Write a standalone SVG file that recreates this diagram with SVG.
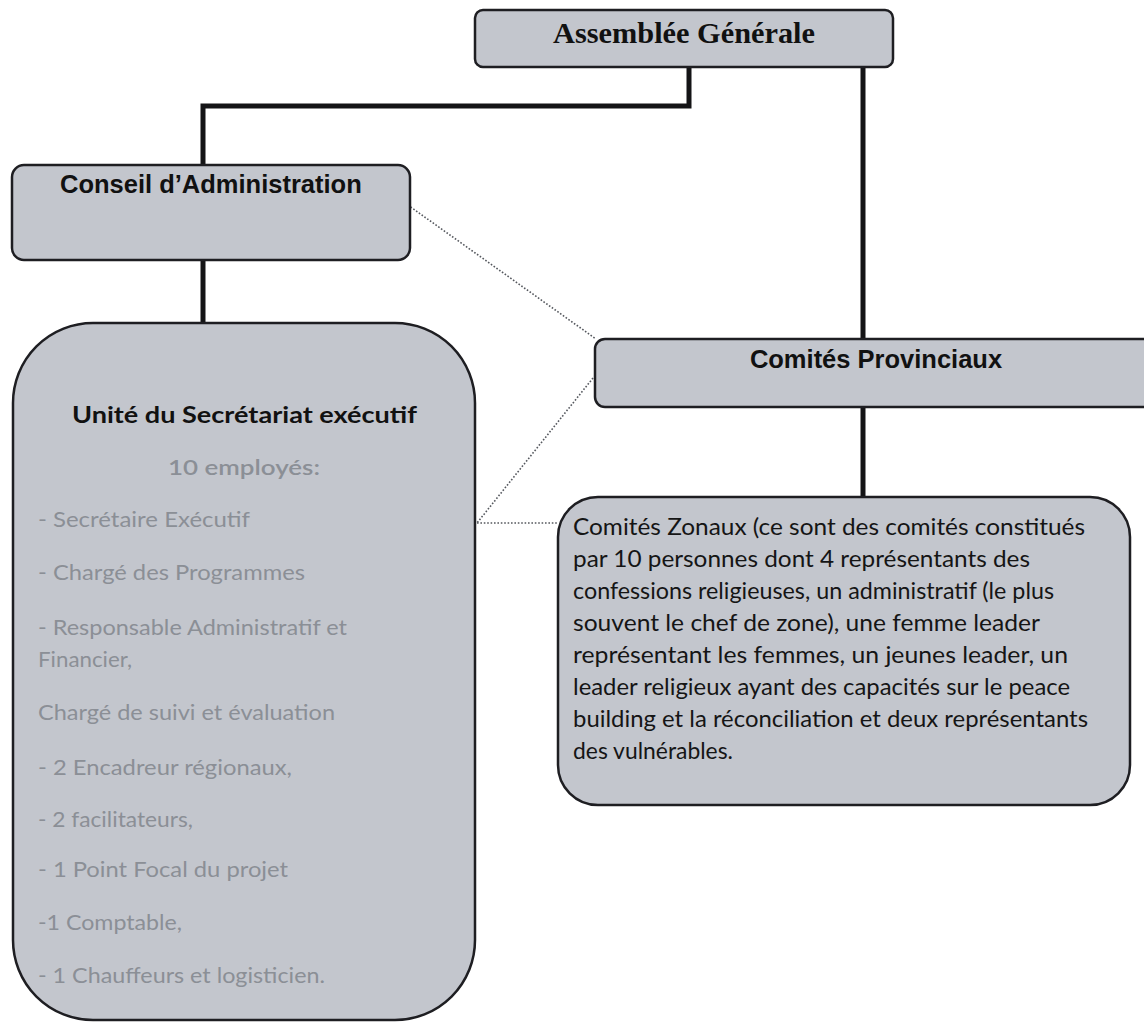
<svg xmlns="http://www.w3.org/2000/svg" width="1144" height="1023" viewBox="0 0 1144 1023">
  <style>
    .box { fill: #c3c6cd; stroke: #1e1e22; stroke-width: 2.5; }
    .solid { fill: none; stroke: #141416; stroke-width: 5; }
    .dot { fill: none; stroke: #55585e; stroke-width: 1.6; stroke-dasharray: 1.6 1.8; }
    .serifb { font-family: "Liberation Serif", "Times New Roman", serif; font-weight: bold; fill: #111; }
    .arialb { font-family: "Liberation Sans", Arial, sans-serif; font-weight: bold; fill: #111; }
    .hum { font-family: Lato, "Open Sans", sans-serif; }
    .gray { fill: #8b8f96; font-size: 21px; }
    .zon { fill: #151515; font-size: 23.5px; }
  </style>
  <rect width="1144" height="1023" fill="#ffffff"/>

  <g id="connectors">
    <path class="solid" d="M689,67 V106 H203 V165"/>
    <path class="solid" d="M203,260 V323"/>
    <path class="solid" d="M863,67 V339"/>
    <path class="solid" d="M863,407 V497"/>
    <path class="dot" d="M405,203 L596,339"/>
    <path class="dot" d="M593,378 L477,523"/>
    <path class="dot" d="M477,523 H558"/>
  </g>

  <g id="assemblee-generale">
    <rect class="box" x="475" y="10" width="418" height="57" rx="8"/>
    <text class="serifb" x="684" y="43" font-size="29" text-anchor="middle" textLength="262" lengthAdjust="spacingAndGlyphs">Assemblée Générale</text>
  </g>

  <g id="conseil-administration">
    <rect class="box" x="12" y="165" width="398" height="95" rx="12"/>
    <text class="arialb" x="60" y="193" font-size="25.5">Conseil d’Administration</text>
  </g>

  <g id="unite-secretariat">
    <rect class="box" x="13" y="323" width="462" height="697" rx="80"/>
    <text class="hum" x="72" y="423" font-size="23" font-weight="bold" fill="#111" textLength="345" lengthAdjust="spacingAndGlyphs">Unité du Secrétariat exécutif</text>
    <text class="hum gray" x="168" y="475" font-weight="600" textLength="152" lengthAdjust="spacingAndGlyphs">10 employés:</text>
    <text class="hum gray" x="38" y="527" textLength="212" lengthAdjust="spacingAndGlyphs">- Secrétaire Exécutif</text>
    <text class="hum gray" x="38" y="580" textLength="267" lengthAdjust="spacingAndGlyphs">- Chargé des Programmes</text>
    <text class="hum gray" x="38" y="635" textLength="309" lengthAdjust="spacingAndGlyphs">- Responsable Administratif et</text>
    <text class="hum gray" x="38" y="667" textLength="94" lengthAdjust="spacingAndGlyphs">Financier,</text>
    <text class="hum gray" x="38" y="720" textLength="297" lengthAdjust="spacingAndGlyphs">Chargé de suivi et évaluation</text>
    <text class="hum gray" x="38" y="775" textLength="254" lengthAdjust="spacingAndGlyphs">- 2 Encadreur régionaux,</text>
    <text class="hum gray" x="38" y="827" textLength="155" lengthAdjust="spacingAndGlyphs">- 2 facilitateurs,</text>
    <text class="hum gray" x="38" y="877" textLength="250" lengthAdjust="spacingAndGlyphs">- 1 Point Focal du projet</text>
    <text class="hum gray" x="38" y="930" textLength="144" lengthAdjust="spacingAndGlyphs">-1 Comptable,</text>
    <text class="hum gray" x="38" y="983" textLength="287" lengthAdjust="spacingAndGlyphs">- 1 Chauffeurs et logisticien.</text>
  </g>

  <g id="comites-provinciaux">
    <rect class="box" x="595" y="339" width="560" height="68" rx="10"/>
    <text class="arialb" x="876" y="368" font-size="25.5" text-anchor="middle">Comités Provinciaux</text>
  </g>

  <g id="comites-zonaux">
    <rect class="box" x="558" y="497" width="572" height="308" rx="40"/>
    <text class="hum zon" x="573" y="535" textLength="512" lengthAdjust="spacingAndGlyphs">Comités Zonaux (ce sont des comités constitués</text>
    <text class="hum zon" x="573" y="567" textLength="457" lengthAdjust="spacingAndGlyphs">par 10 personnes dont 4 représentants des</text>
    <text class="hum zon" x="573" y="599" textLength="481" lengthAdjust="spacingAndGlyphs">confessions religieuses, un administratif (le plus</text>
    <text class="hum zon" x="573" y="631" textLength="467" lengthAdjust="spacingAndGlyphs">souvent le chef de zone), une femme leader</text>
    <text class="hum zon" x="573" y="663" textLength="495" lengthAdjust="spacingAndGlyphs">représentant les femmes, un jeunes leader, un</text>
    <text class="hum zon" x="573" y="695" textLength="497" lengthAdjust="spacingAndGlyphs">leader religieux ayant des capacités sur le peace</text>
    <text class="hum zon" x="573" y="727" textLength="515" lengthAdjust="spacingAndGlyphs">building et la réconciliation et deux représentants</text>
    <text class="hum zon" x="573" y="759" textLength="160" lengthAdjust="spacingAndGlyphs">des vulnérables.</text>
  </g>
</svg>
